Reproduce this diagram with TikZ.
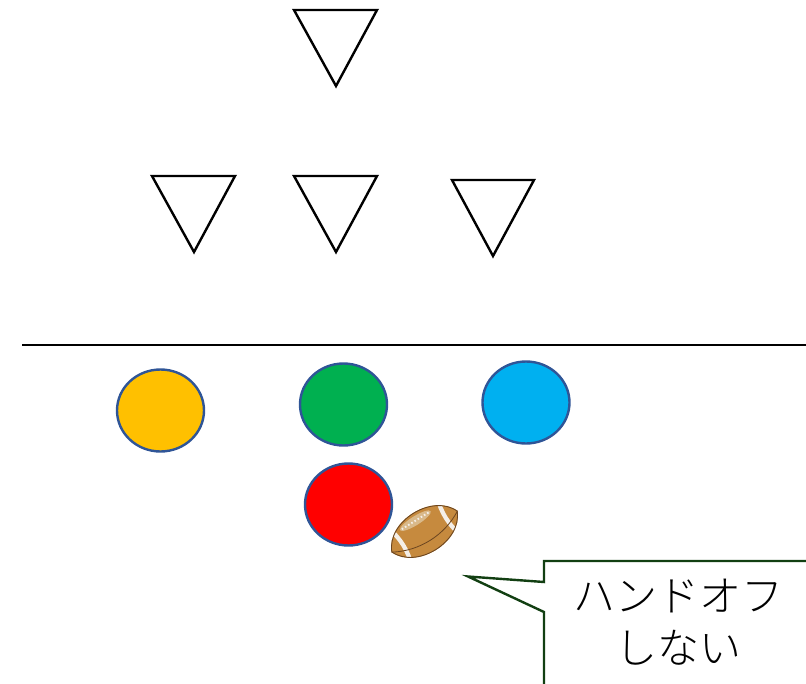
\documentclass[tikz,border=0pt]{standalone}
\usepackage{fontspec}
\newfontfamily\cjk[UprightFont=* Light]{Noto Sans CJK JP}
\tikzset{
  defender/.style={draw=black,line width=1.8pt,line join=miter,fill=white},
  player/.style={draw=playerblue,line width=1.8pt},
  callout/.style={draw=calloutgreen,line width=1.8pt,line join=miter},
  stripe/.style={draw=ballwhite,line width=3.2pt},
  seam/.style={draw=ballbrown,line width=0.6pt}
}
\definecolor{playerblue}{HTML}{2F5597}
\definecolor{calloutgreen}{HTML}{123F12}
\definecolor{ballfill}{HTML}{C68A3E}
\definecolor{ballbrown}{HTML}{6B4520}
\definecolor{lacetan}{HTML}{D9B98A}
\definecolor{ballwhite}{HTML}{F4EFE8}
\begin{document}
\begin{tikzpicture}[x=0.75pt,y=-0.75pt]
\useasboundingbox (0,0) rectangle (806,684);
% defenders
\draw[defender] (294,10) -- (377,10) -- (336,86) -- cycle;
\draw[defender] (152,176) -- (235,176) -- (194,252) -- cycle;
\draw[defender] (294,176) -- (377,176) -- (336,252) -- cycle;
\draw[defender] (452,180) -- (534,180) -- (493,256) -- cycle;
% line of scrimmage
\draw[black,line width=1.8pt] (22,345) -- (806,345);
% offence
\draw[player,fill={rgb,255:red,255;green,192;blue,0}] (160.5,410.5) ellipse [x radius=43.5,y radius=41];
\draw[player,fill={rgb,255:red,0;green,176;blue,80}] (343.5,404.5) ellipse [x radius=43.5,y radius=41];
\draw[player,fill={rgb,255:red,0;green,176;blue,240}] (526,402.5) ellipse [x radius=43.5,y radius=41];
\draw[player,fill={rgb,255:red,255;green,0;blue,0}] (348.5,504.5) ellipse [x radius=43.5,y radius=41];
% ball
\begin{scope}[shift={(424.5,531.5)},rotate=32]
  \path[clip] (-39,0) .. controls (-27,-29) and (27,-29) .. (39,0) .. controls (27,29) and (-27,29) .. (-39,0) -- cycle;
  \fill[ballfill] (-40,-25) rectangle (40,25);
  \draw[stripe] (-29,-22) .. controls (-24,-8) and (-24,8) .. (-29,22);
  \draw[stripe] (29,-22) .. controls (24,-8) and (24,8) .. (29,22);
  \fill[lacetan] (-2,-14) ellipse [x radius=18,y radius=4.5];
  \draw[ballwhite,line width=1.4pt,dash pattern=on 1.2pt off 1.6pt] (-18,-14) -- (14,-14);
  \draw[seam] (-39,0) .. controls (-15,14) and (15,14) .. (39,0);
  \draw[ballbrown,line width=1.3pt] (-39,0) .. controls (-27,-29) and (27,-29) .. (39,0) .. controls (27,29) and (-27,29) .. (-39,0) -- cycle;
\end{scope}
% callout
\fill[white] (808,561) -- (544,561) -- (544,582) -- (468,576.5) -- (544,612) -- (544,686) -- (808,686) -- cycle;
\draw[callout] (808,561) -- (544,561) -- (544,582) -- (468,576.5) -- (544,612) -- (544,686);
\node[font=\cjk\fontsize{31.5}{31.5}\selectfont,text=black,inner sep=0pt] (t1) at (678.5,596) {ハンドオフ};
\node[font=\cjk\fontsize{31.5}{31.5}\selectfont,text=black,inner sep=0pt] (t2) at (678.5,648) {しない};
\end{tikzpicture}
\end{document}
